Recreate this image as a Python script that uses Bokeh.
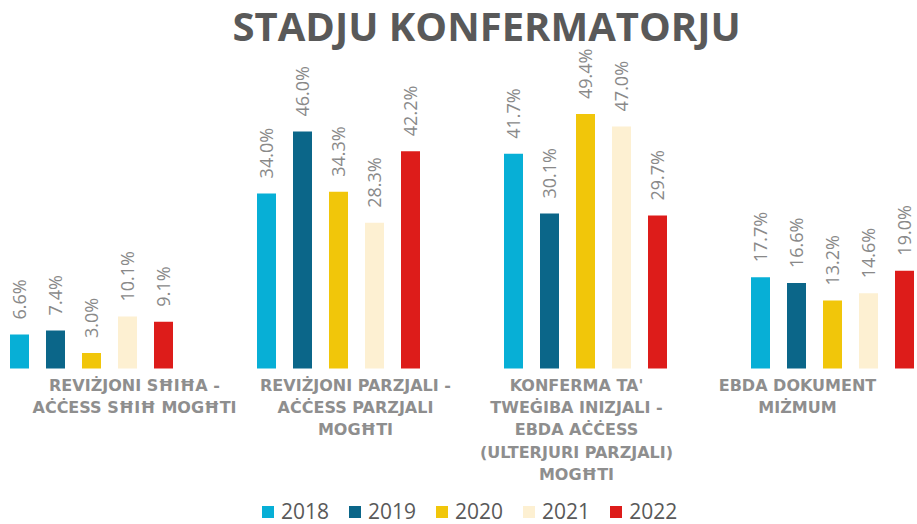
import numpy as np
from bokeh.plotting import figure
from bokeh.models import (ColumnDataSource, Range1d, Legend, LegendItem, LabelSet)
from bokeh.core.properties import value
from bokeh.embed import file_html
from bokeh.resources import INLINE

# ---------------- data ----------------
categories = [
    "REVIŻJONI SĦIĦA -\nAĊĊESS SĦIĦ MOGĦTI",
    "REVIŻJONI PARZJALI -\nAĊĊESS PARZJALI\nMOGĦTI",
    "KONFERMA TA'\nTWEĠIBA INIZJALI -\nEBDA AĊĊESS\n(ULTERJURI PARZJALI)\nMOGĦTI",
    "EBDA DOKUMENT\nMIŻMUM",
]
years = ["2018", "2019", "2020", "2021", "2022"]
v2018 = [6.6, 34.0, 41.7, 17.7]
v2019 = [7.4, 46.0, 30.1, 16.6]
v2020 = [3.0, 34.3, 49.4, 13.2]
v2021 = [10.1, 28.3, 47.0, 14.6]
v2022 = [9.1, 42.2, 29.7, 19.0]
series = [v2018, v2019, v2020, v2021, v2022]
colors = ["#07afd6", "#0b6689", "#f1c60a", "#fdf0d2", "#dd1c1a"]

# ---------------- layout constants ----------------
FRAME_W = 917
FRAME_H = 478          # frame runs from below the title to the bottom of the page
BASELINE_PX = 321      # distance from frame top to the bar baseline
PX_PER_PCT = 5.15
GROUP_PX = 247.0
FIRST_CENTER_PX = 91.0
OFFSET = 36 / GROUP_PX     # series offset within a group (group units)
BAR_W = 19 / GROUP_PX

p = figure(
    frame_width=FRAME_W, frame_height=FRAME_H,
    x_range=Range1d(-FIRST_CENTER_PX / GROUP_PX, (FRAME_W - FIRST_CENTER_PX) / GROUP_PX),
    y_range=Range1d(-(FRAME_H - BASELINE_PX) / PX_PER_PCT, BASELINE_PX / PX_PER_PCT),
    x_axis_type=None, y_axis_type=None,
    output_backend="svg", toolbar_location=None,
    min_border=0, outline_line_color=None,
    title="STADJU KONFERMATORJU",
)
p.grid.visible = False
p.background_fill_color = "white"
p.border_fill_color = "white"

p.title.align = "left"
p.title.offset = 232
p.title.text_font = "Open Sans"
p.title.text_font_size = "40px"
p.title.text_font_style = "bold"
p.title.text_color = "#595959"
p.title.standoff = -10

items = []
for s, (yr, vals, col) in enumerate(zip(years, series, colors)):
    src = ColumnDataSource(dict(
        x=[g + (s - 2) * OFFSET for g in range(len(vals))],
        top=vals,
        lab=[f"{v:.1f}%" for v in vals],
    ))
    r = p.vbar(x="x", top="top", width=BAR_W, source=src, fill_color=col, line_color=None)
    p.add_layout(LabelSet(x="x", y="top", text="lab", source=src, angle=np.pi / 2,
                          text_align="left", text_baseline="middle", y_offset=15,
                          text_font=value("Open Sans"), text_font_size=value("18px"),
                          text_color=value("#898989")))
    items.append(LegendItem(label=yr, renderers=[r]))

# category labels (their centres sit on a slightly different grid than the bar groups)
CAT_PX, CAT0_PX = 221, 134
p.extra_x_ranges = {"cats": Range1d(-CAT0_PX / CAT_PX, (FRAME_W - CAT0_PX) / CAT_PX)}
cat_src = ColumnDataSource(dict(x=list(range(len(categories))),
                                y=[0] * len(categories),
                                text=categories))
p.text(x="x", y="y", text="text", source=cat_src, x_range_name="cats",
       text_align="center", text_baseline="top", y_offset=7,
       text_line_height=1.18,
       text_font=value("DejaVu Sans"), text_font_style="bold",
       text_font_size="16px", text_color="#8e8e8e")

legend = Legend(items=items, orientation="horizontal", location=(260, 0),
                border_line_color=None, background_fill_alpha=0,
                label_text_font="Open Sans", label_text_font_size="21px",
                label_text_color="#595959", glyph_width=15, glyph_height=15,
                label_standoff=6, spacing=18, padding=0, margin=0)
p.add_layout(legend, "center")

open("out.html", "w").write(file_html(p, INLINE))
